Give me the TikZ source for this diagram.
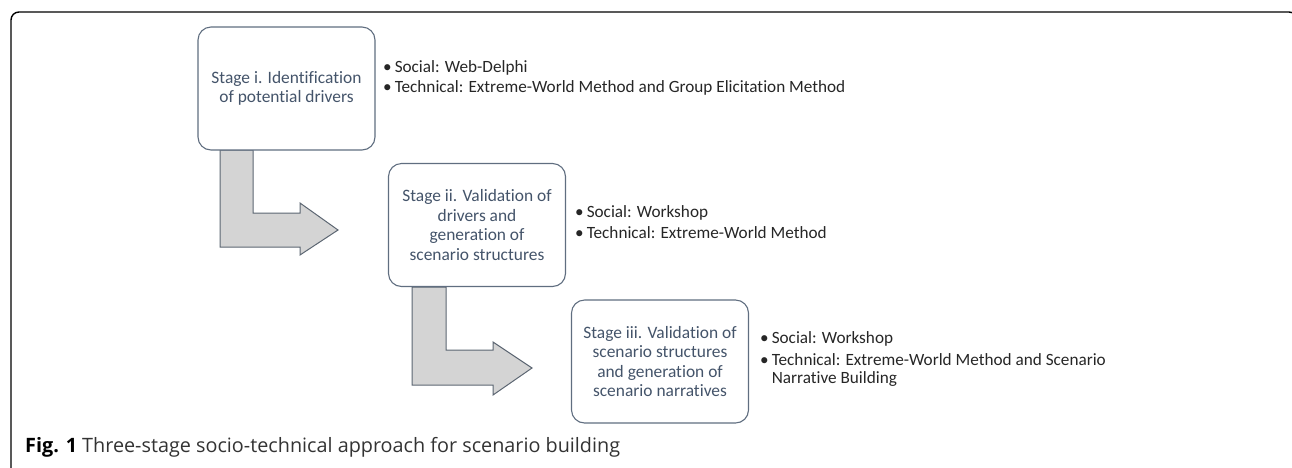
\documentclass[tikz,border=0pt]{standalone}
\usepackage{fontspec}
\setmainfont{Carlito}[Ligatures=NoCommon]
\newfontfamily\capfont{Open Sans}
\usepackage{tikz}
\definecolor{stagetext}{RGB}{68,84,106}
\definecolor{stageline}{RGB}{96,110,128}
\definecolor{arrowfill}{RGB}{212,212,212}
\definecolor{arrowline}{RGB}{92,102,114}
\tikzset{
	stagebox/.style={draw=stageline, line width=1.1pt, rounded corners=13pt, fill=white,
		minimum width=177pt, minimum height=123pt, align=center, text=stagetext,
		font=\fontsize{17.4}{19.6}\selectfont},
	methods/.style={anchor=west, align=left, text=black!85, inner sep=0pt,
		font=\fontsize{17.2}{18.5}\selectfont},
	bentarrow/.style={fill=arrowfill, draw=arrowline, line width=1pt, line join=miter}
}
\begin{document}
\begin{tikzpicture}[x=1pt,y=-1pt]
	\useasboundingbox (0,0) rectangle (1292,467);
	% frame
	\draw[line width=1.4pt, rounded corners=8pt] (11,480) -- (11,12) -- (1297,12) -- (1297,480);
	% arrows
	\filldraw[bentarrow] (220,150) -- (253,150) -- (253,213) -- (300,213) -- (300,203) -- (338,230)
		-- (300,255) -- (300,247) -- (220,247) -- cycle;
	\filldraw[bentarrow] (412,287) -- (446,287) -- (446,350) -- (493,350) -- (493,342) -- (532,368)
		-- (493,395) -- (493,385) -- (412,385) -- cycle;
	% stages
	\node[stagebox] (stage1) at (286.5,88.5) {Stage i. Identification\\of potential drivers};
	\node[stagebox] (stage2) at (477,225) {Stage ii. Validation of\\drivers and\\generation of\\scenario structures};
	\node[stagebox] (stage3) at (660,361.5) {Stage iii. Validation of\\scenario structures\\and generation of\\scenario narratives};
	% methods
	\node[methods] (list1) at (383,79) {\begin{tabular}{@{}l@{\hspace{3pt}}l@{}}
		\textbullet & Social: Web-Delphi\\[2pt]
		\textbullet & Technical: Extreme-World Method and Group Elicitation Method
	\end{tabular}};
	\node[methods] (list2) at (575,224.5) {\begin{tabular}{@{}l@{\hspace{3pt}}l@{}}
		\textbullet & Social: Workshop\\[2pt]
		\textbullet & Technical: Extreme-World Method
	\end{tabular}};
	\node[methods] (list3) at (760,360) {\begin{tabular}{@{}l@{\hspace{3pt}}l@{}}
		\textbullet & Social: Workshop\\[3pt]
		\textbullet & Technical: Extreme-World Method and Scenario\\
		& Narrative Building
	\end{tabular}};
	% caption
	\node[anchor=west, inner sep=0pt, text=black!80, font=\capfont\fontsize{19.8}{22}\selectfont] (caption) at (25,447)
		{\textcolor{black}{\textbf{Fig. 1}} Three-stage socio-technical approach for scenario building};
\end{tikzpicture}
\end{document}
